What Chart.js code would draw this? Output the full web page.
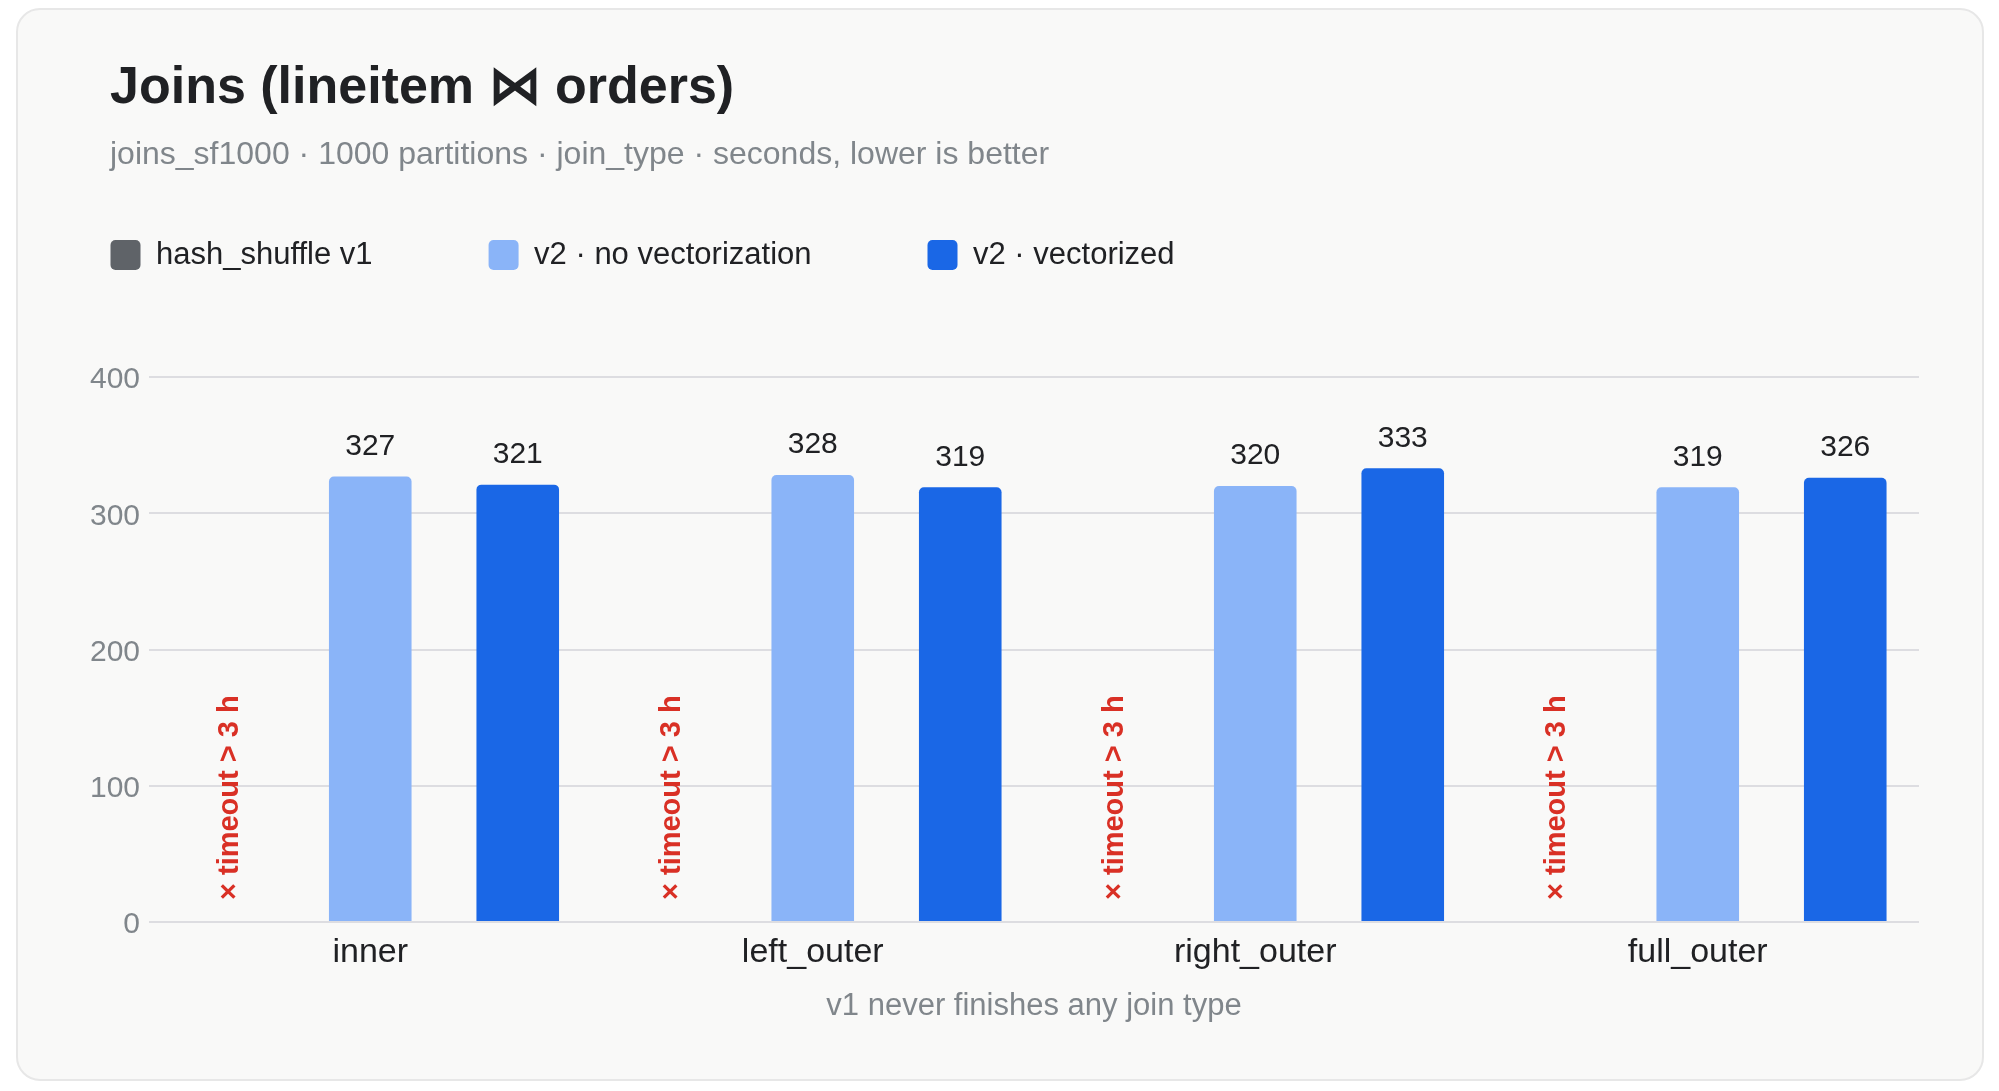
<!DOCTYPE html>
<html>
<head>
<meta charset="utf-8">
<script src="https://cdn.jsdelivr.net/npm/chart.js@4.4.1/dist/chart.umd.min.js"></script>
<style>
  html, body { margin: 0; padding: 0; background: #ffffff; width: 1999px; height: 1091px; overflow: hidden; }
  #card { position: absolute; left: 16px; top: 8px; width: 1964px; height: 1069px; border: 2px solid #e7e7e7; border-radius: 24px; background: #f9f9f8; }
  #chart { position: absolute; left: 0; top: 0; }
  .txt { position: absolute; white-space: nowrap; font-family: "Liberation Sans", Arial, Helvetica, sans-serif; }
  #title { left: 110px; top: 59px; font-size: 52px; line-height: 52px; font-weight: bold; color: #202124; }
  #subtitle { left: 110px; top: 137px; font-size: 32px; line-height: 32px; color: #80868b; }
</style>
</head>
<body>
<div id="card"></div>
<canvas id="chart" width="1999" height="1091"></canvas>
<div id="title" class="txt">Joins (lineitem ⋈ orders)</div>
<div id="subtitle" class="txt">joins_sf1000 · 1000 partitions · join_type · seconds, lower is better</div>
<script>
const categories = ["inner", "left_outer", "right_outer", "full_outer"];
const seriesNames = ["hash_shuffle v1", "v2 · no vectorization", "v2 · vectorized"];
const v1Values = [null, null, null, null];
const v2NoVecValues = [327, 328, 320, 319];
const v2VecValues = [321, 319, 333, 326];
const yTicks = [0, 100, 200, 300, 400];
const timeoutLabel = "× timeout > 3 h";
const xAxisTitle = "v1 never finishes any join type";

const FONT = '"Liberation Sans", Arial, Helvetica, sans-serif';

const legendMargin = {
  id: 'legendMargin',
  beforeInit(chart) {
    const origFit = chart.legend.fit;
    chart.legend.fit = function () {
      origFit.bind(chart.legend)();
      this.height += 96.5;
    };
  }
};

const annotations = {
  id: 'annotations',
  afterDatasetsDraw(chart) {
    const ctx = chart.ctx;
    const yScale = chart.scales.y;
    const m0 = chart.getDatasetMeta(0);
    const m1 = chart.getDatasetMeta(1);
    const m2 = chart.getDatasetMeta(2);
    ctx.save();
    ctx.font = '30px ' + FONT;
    ctx.fillStyle = '#202124';
    ctx.textAlign = 'center';
    ctx.textBaseline = 'middle';
    [m1, m2].forEach(meta => {
      meta.data.forEach((bar, i) => {
        const v = chart.data.datasets[meta.index].data[i];
        if (v == null) return;
        ctx.fillText(String(v), bar.x, bar.y - 30);
      });
    });
    ctx.font = 'bold 29px ' + FONT;
    ctx.fillStyle = '#d93025';
    ctx.textAlign = 'left';
    ctx.textBaseline = 'middle';
    const y0 = yScale.getPixelForValue(0);
    categories.forEach((c, i) => {
      let x = m0.data[i] ? m0.data[i].x : NaN;
      if (!isFinite(x)) x = m1.data[i].x - (m2.data[i].x - m1.data[i].x);
      if (v1Values[i] == null) {
        ctx.save();
        ctx.translate(x + 7, y0 - 22);
        ctx.rotate(-Math.PI / 2);
        ctx.fillText(timeoutLabel, 0, 0);
        ctx.restore();
      }
    });
    ctx.restore();
  }
};

new Chart(document.getElementById('chart'), {
  type: 'bar',
  data: {
    labels: categories,
    datasets: [
      { label: seriesNames[0], data: v1Values, backgroundColor: '#5f6368' },
      { label: seriesNames[1], data: v2NoVecValues, backgroundColor: '#8ab4f8' },
      { label: seriesNames[2], data: v2VecValues, backgroundColor: '#1a67e6' }
    ]
  },
  options: {
    responsive: false,
    devicePixelRatio: 1,
    animation: false,
    layout: { padding: { left: -5.5, right: 80, top: 123.5, bottom: 0 } },
    datasets: {
      bar: { categoryPercentage: 1.0, barPercentage: 0.56, borderRadius: 5, borderSkipped: 'start' }
    },
    plugins: {
      legend: {
        position: 'top',
        align: 'start',
        labels: {
          boxWidth: 30,
          boxHeight: 30,
          padding: 116,
          useBorderRadius: true,
          borderRadius: 5,
          color: '#202124',
          font: { family: FONT, size: 31 }
        }
      },
      tooltip: { enabled: false },
      title: { display: false }
    },
    scales: {
      x: {
        grid: { display: false, drawTicks: false },
        border: { display: false },
        ticks: { color: '#202124', padding: 10, font: { family: FONT, size: 34 } },
        title: {
          display: true,
          text: xAxisTitle,
          color: '#80868b',
          font: { family: FONT, size: 31 },
          padding: { top: 0, bottom: 66 }
        },
        afterFit(scale) { scale.height = 169; }
      },
      y: {
        min: 0,
        max: 400,
        afterBuildTicks(scale) { scale.ticks = yTicks.map(v => ({ value: v })); },
        grid: { color: '#dddde1', lineWidth: 2, drawTicks: false },
        border: { display: false },
        ticks: { color: '#80868b', padding: 9, labelOffset: 3, font: { family: FONT, size: 30 } },
        afterFit(scale) { scale.width = 154.5; }
      }
    }
  },
  plugins: [legendMargin, annotations]
});
</script>
</body>
</html>
